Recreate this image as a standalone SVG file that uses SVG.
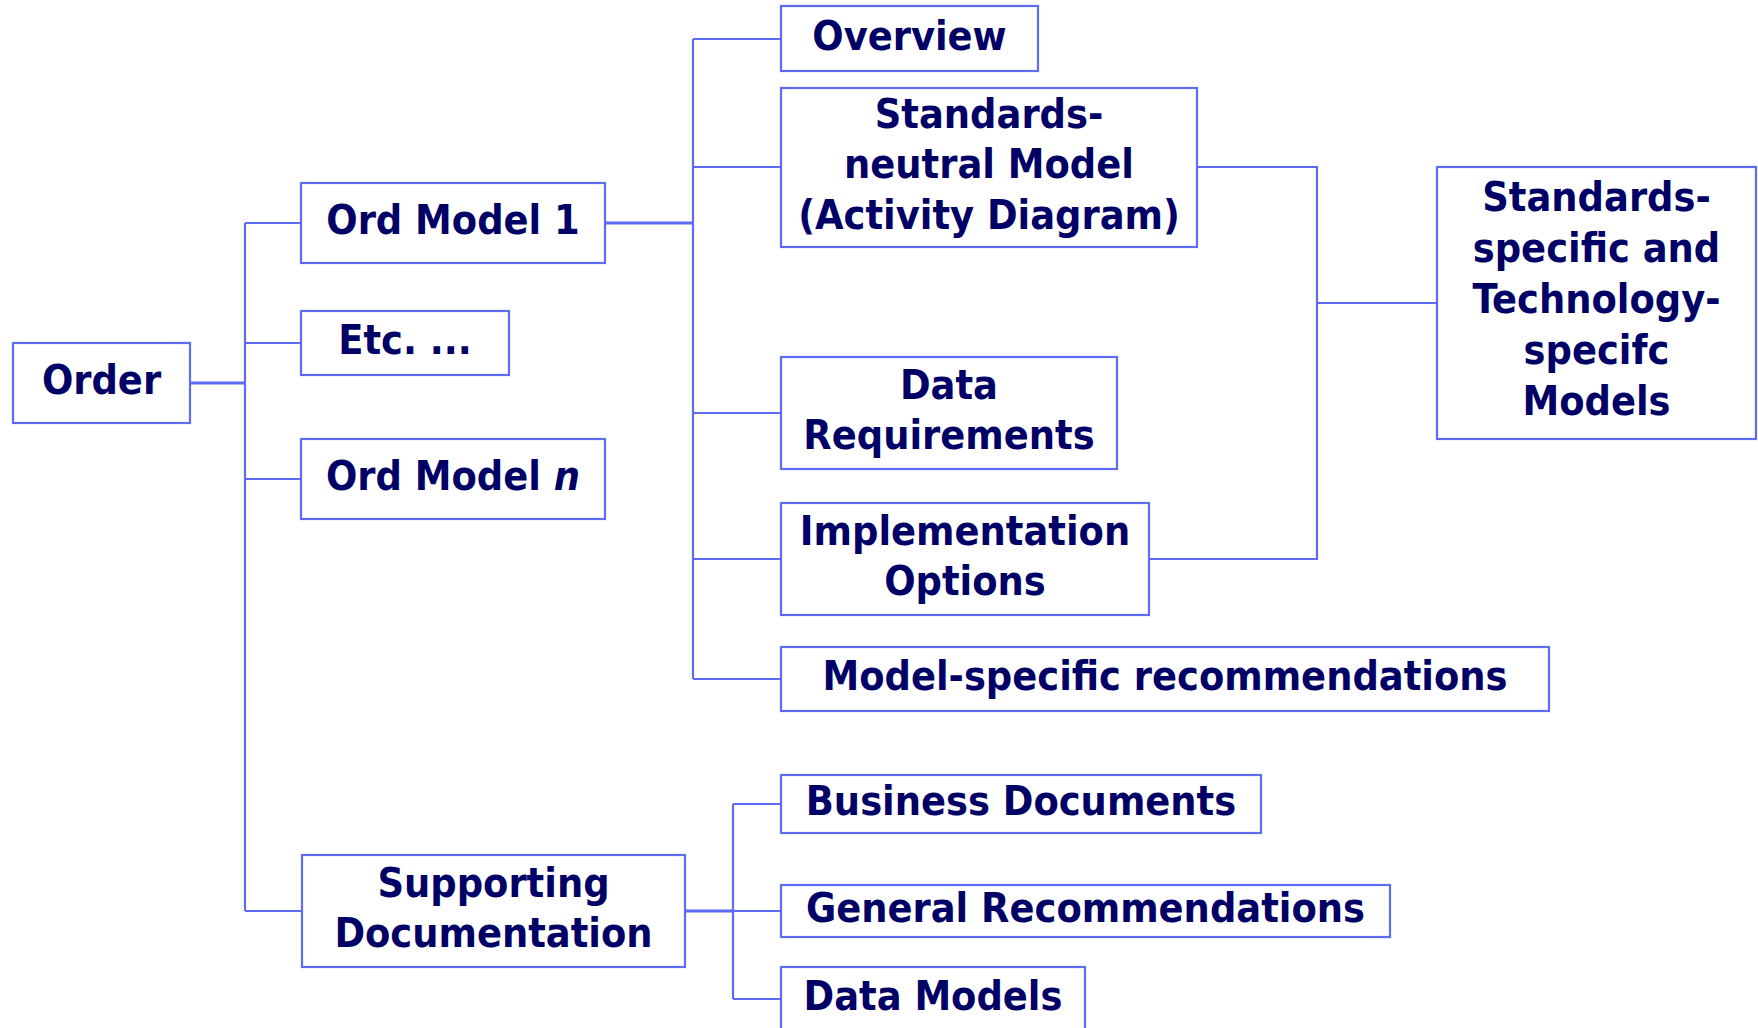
<svg xmlns="http://www.w3.org/2000/svg" width="1758" height="1028" viewBox="0 0 1758 1028">
<style>
.box{fill:#fff;stroke:#5d6cf2;stroke-width:2.2}
.ln{fill:none;stroke:#5d6cf2;stroke-width:2.2}
.thick{stroke-width:3}
text{font-family:"DejaVu Sans Condensed","DejaVu Sans",sans-serif;font-weight:bold;font-size:41px;fill:#000066;text-anchor:middle;dominant-baseline:central}
</style>
<rect width="1758" height="1028" fill="#fff"/>
<g id="connectors">
<path class="ln thick" d="M190 383H245"/>
<path class="ln" d="M245 223V911M245 223H301M245 343H301M245 479H301M245 911H302"/>
<path class="ln thick" d="M605 223H693"/>
<path class="ln" d="M693 39V679M693 39H781M693 167H781M693 413H781M693 559H781M693 679H781"/>
<path class="ln" d="M1197 167H1317V559H1149M1317 303H1437"/>
<path class="ln thick" d="M685 911H733"/>
<path class="ln" d="M733 804V999M733 804H781M733 911H781M733 999H781"/>
</g>
<g id="order"><rect class="box" x="13" y="343" width="177" height="80"/><text x="101.5" y="380">Order</text></g>
<g id="ordmodel1"><rect class="box" x="301" y="183" width="304" height="80"/><text x="453" y="220">Ord Model 1</text></g>
<g id="etc"><rect class="box" x="301" y="311" width="208" height="64"/><text x="405" y="340">Etc. ...</text></g>
<g id="ordmodeln"><rect class="box" x="301" y="439" width="304" height="80"/><text x="453" y="476">Ord Model <tspan font-style="italic">n</tspan></text></g>
<g id="supporting"><rect class="box" x="302" y="855" width="383" height="112"/><text x="493.5" y="882.5">Supporting</text><text x="493.5" y="933">Documentation</text></g>
<g id="overview"><rect class="box" x="781" y="6" width="257" height="65"/><text x="909.5" y="35.5">Overview</text></g>
<g id="neutral"><rect class="box" x="781" y="88" width="416" height="159"/><text x="989" y="113.5">Standards-</text><text x="989" y="164">neutral Model</text><text x="989" y="214.5">(Activity Diagram)</text></g>
<g id="datareq"><rect class="box" x="781" y="357" width="336" height="112"/><text x="949" y="384.5">Data</text><text x="949" y="435">Requirements</text></g>
<g id="implopt"><rect class="box" x="781" y="503" width="368" height="112"/><text x="965" y="530.5">Implementation</text><text x="965" y="581">Options</text></g>
<g id="modelspec"><rect class="box" x="781" y="647" width="768" height="64"/><text x="1165" y="676">Model-specific recommendations</text></g>
<g id="specific"><rect class="box" x="1437" y="167" width="319" height="272"/><text x="1596.5" y="197">Standards-</text><text x="1596.5" y="248">specific and</text><text x="1596.5" y="299">Technology-</text><text x="1596.5" y="350">specifc</text><text x="1596.5" y="401">Models</text></g>
<g id="business"><rect class="box" x="781" y="775" width="480" height="58"/><text x="1021" y="801">Business Documents</text></g>
<g id="general"><rect class="box" x="781" y="885" width="609" height="52"/><text x="1085.5" y="908">General Recommendations</text></g>
<g id="datamodels"><rect class="box" x="781" y="967" width="304" height="80"/><text x="933" y="996">Data Models</text></g>
</svg>
